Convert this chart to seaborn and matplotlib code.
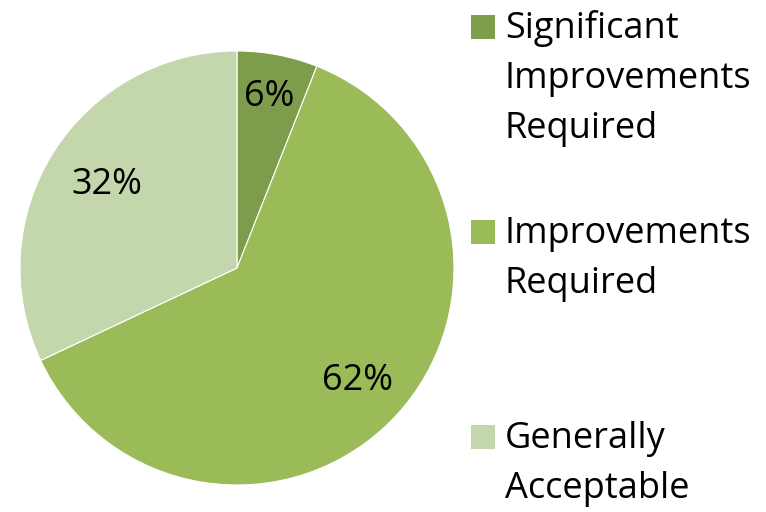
import matplotlib
matplotlib.use("Agg")
import matplotlib.pyplot as plt
from matplotlib.patches import Rectangle
import numpy as np
import seaborn as sns

categories = ["Significant\nImprovements\nRequired", "Improvements\nRequired", "Generally\nAcceptable"]
shares = [6, 62, 32]
colors = ["#7E9D4C", "#9BBB59", "#C4D6AC"]
label_radius = [0.80, 0.76, 0.71]

sns.set_theme(style="white")
plt.rcParams["font.family"] = ["Open Sans", "DejaVu Sans"]

W, H = 766, 512
fig = plt.figure(figsize=(W / 100, H / 100), dpi=100)
fig.patch.set_facecolor("white")

# pie area in pixels: left 20, top 51, diameter 434
ax = fig.add_axes([20 / W, 1 - 485 / H, 434 / W, 434 / H])
wedges, _ = ax.pie(shares, colors=colors, startangle=90, counterclock=False,
                   wedgeprops=dict(edgecolor="white", linewidth=0.8))
ax.set_xlim(-1, 1)
ax.set_ylim(-1, 1)
ax.set_aspect("equal")
ax.axis("off")

FS = 26
for w, v, r in zip(wedges, shares, label_radius):
    mid = np.deg2rad((w.theta1 + w.theta2) / 2)
    ax.text(r * np.cos(mid), r * np.sin(mid), f"{v}%", ha="center", va="center",
            fontsize=FS, color="black")

# legend: square key + multi-line label, one block per category
first_baseline = 38
block_step = 205
line_step = 50
for i, (cat, col) in enumerate(zip(categories, colors)):
    b = first_baseline + i * block_step
    fig.patches.append(Rectangle(((471) / W, 1 - (b + 1) / H), 24 / W, 24 / H,
                                 transform=fig.transFigure, facecolor=col,
                                 edgecolor="none"))
    for j, line in enumerate(cat.split("\n")):
        fig.text(505 / W, 1 - (b + j * line_step) / H, line, ha="left",
                 va="baseline", fontsize=FS, color="black")

fig.savefig("out.png", dpi=100, facecolor="white")
